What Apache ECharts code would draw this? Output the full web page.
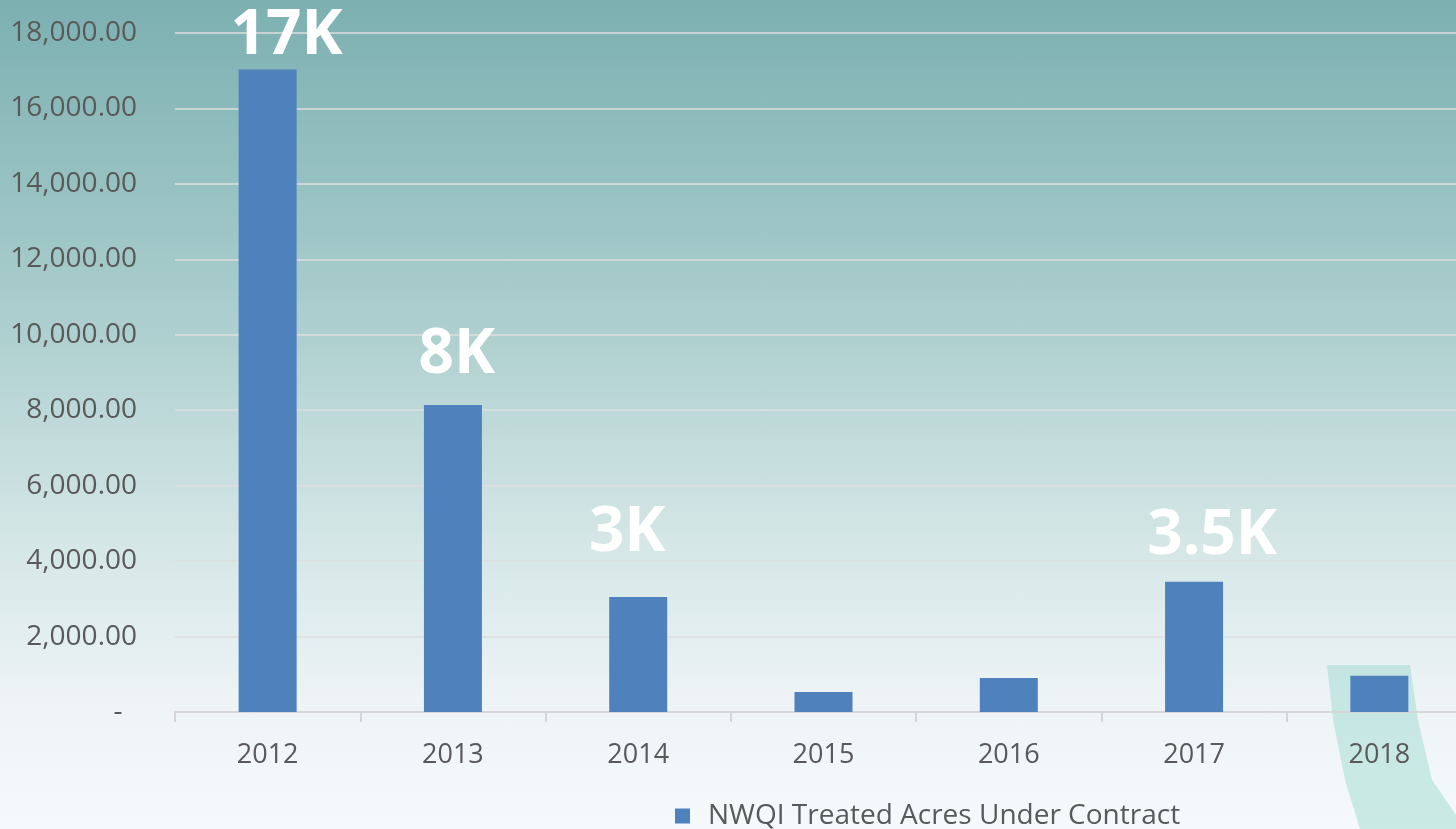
<!DOCTYPE html>
<html>
<head>
<meta charset="utf-8">
<script src="https://cdn.jsdelivr.net/npm/echarts@6/dist/echarts.min.js"></script>
<style>
html,body{margin:0;padding:0;}
#c{width:1456px;height:829px;background:linear-gradient(to bottom,#7cb0b1 0%,#a7cbcb 35%,#d4e6e6 65%,#eef4f6 85%,#f5f9fb 100%);}
</style>
</head>
<body>
<div id="c"></div>
<script>
const categories = ['2012','2013','2014','2015','2016','2017','2018'];
const acres = [17030, 8140, 3050, 530, 900, 3450, 960];
const calloutTexts = ['17K','8K','3K','','','3.5K',''];
const seriesName = 'NWQI Treated Acres Under Contract';

// callout label offsets (style only)
const calloutOffsets = [[19,3],[4,-14],[-11,-28],[0,0],[0,0],[18,-10],[0,0]];

const chart = echarts.init(document.getElementById('c'));
const font = '"Open Sans", "Noto Sans", sans-serif';
chart.setOption({
  animation:false,
  graphic:[{
    type:'polygon', silent:true, z:0,
    shape:{points:[[1327,665],[1410,665],[1418,720],[1432,780],[1456,815],[1456,829],[1360,829],[1345,780],[1333,720]]},
    style:{fill:'rgba(150,215,205,0.45)'}
  }],
  grid:{left:175, top:33, width:1297, height:679, containLabel:false, outerBoundsMode:'none'},
  xAxis:{
    type:'category', data:categories,
    axisLine:{lineStyle:{color:'#d6d6d6', width:2}},
    axisTick:{show:true, length:10, lineStyle:{color:'#d6d6d6', width:2}},
    axisLabel:{color:'#595959', fontSize:27, fontFamily:font, margin:30}
  },
  yAxis:{
    type:'value', min:0, max:18000, interval:2000,
    axisLine:{show:false}, axisTick:{show:false},
    splitLine:{lineStyle:{color:'#dedede', width:1.5}},
    axisLabel:{color:'#595959', fontSize:28, fontFamily:font, margin:38,
      formatter:v=> v===0 ? '-  ' : v.toLocaleString('en-US',{minimumFractionDigits:2, maximumFractionDigits:2})}
  },
  legend:{
    left:670, top:797, itemWidth:15, itemHeight:15, itemGap:10,
    icon:'rect',
    textStyle:{color:'#595959', fontSize:28, fontFamily:font, padding:[0,0,0,13]},
    data:[seriesName]
  },
  series:[{
    name:seriesName, type:'bar', barWidth:58,
    itemStyle:{color:'#4f81bd'},
    data:acres.map((v,i)=>({
      value:v,
      label:{show:calloutTexts[i]!=='', formatter:calloutTexts[i], position:'top',
        offset:calloutOffsets[i], color:'#ffffff', fontSize:62, fontWeight:'bold', fontFamily:font}
    }))
  }]
});
</script>
</body>
</html>
